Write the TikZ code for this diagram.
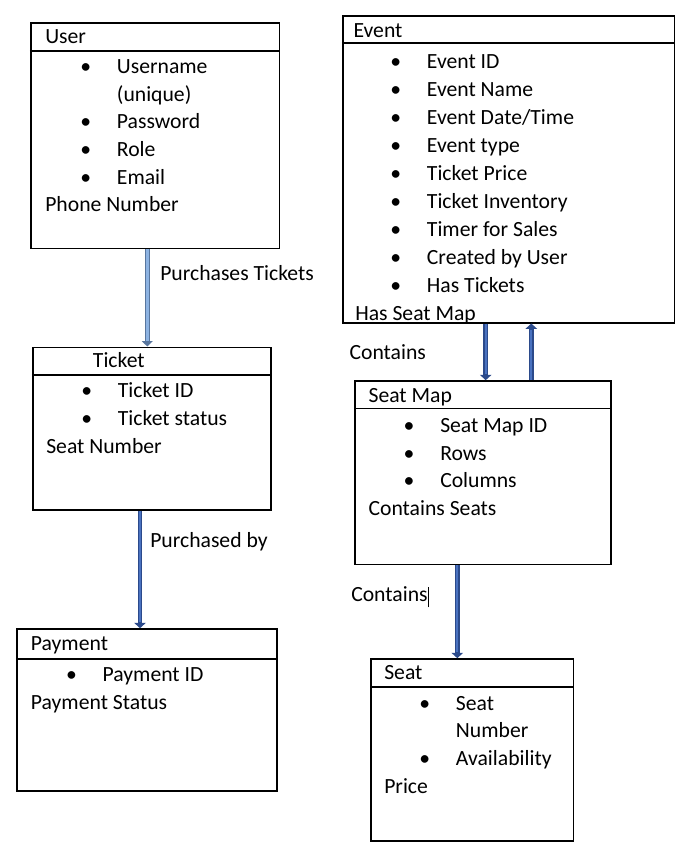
\documentclass[tikz,border=0pt]{standalone}
\usepackage{fontspec}
\setmainfont{Carlito}
\usepackage{xcolor}
\usepackage{tikz}
\usetikzlibrary{fit,arrows.meta}

\definecolor{arrdark}{HTML}{2B4A8B}
\definecolor{arrmid}{HTML}{4A72C0}
\definecolor{litedge}{HTML}{58769E}
\definecolor{litfill}{HTML}{8DB3E2}

\newdimen\pxu \pxu=0.75pt
\newcommand{\bitem}[1]{\makebox[71.7\pxu][l]{\hspace{40.5\pxu}\makebox[0pt]{\textbullet}}#1}
\newcommand{\bcont}[1]{\makebox[71.7\pxu][l]{}#1}

\begin{document}
\begin{tikzpicture}[x=0.75pt,y=-0.75pt,
    box/.style={draw, line width=1.2pt, inner sep=0pt},
    txt/.style={anchor=base west, inner sep=0pt, font=\fontsize{16.25pt}{20.8pt}\selectfont},
    darr/.style={draw=arrdark, line width=3.6pt, -{Triangle[length=4pt,width=8.5pt]},
        postaction={draw=arrmid, line width=1.4pt, -, shorten >=4.5pt}},
    larr/.style={draw=litedge, line width=3.6pt, -{Triangle[length=4pt,width=8pt]},
        postaction={draw=litfill, line width=1.8pt, -, shorten >=4.5pt}}]
    \useasboundingbox (0,0) rectangle (692,866);

    \node [box, fit={(30.7,23.3) (279.3,248.5)}] (user) {};
    \draw [line width=1.2pt] (user.west |- 0,51) -- (user.east |- 0,51);
    \node [txt] (userhd) at (45,44) {User};
    \node [txt] (userbody) at (45,73.3) {\begin{tabular}[t]{@{}l@{}}
        \bitem{Username}\\ \bcont{(unique)}\\ \bitem{Password}\\ \bitem{Role}\\
        \bitem{Email}\\ Phone Number
      \end{tabular}};

    \node [box, fit={(342.7,16) (674.3,322.7)}] (event) {};
    \draw [line width=1.2pt] (event.west |- 0,43.3) -- (event.east |- 0,43.3);
    \node [txt] (eventhd) at (353.3,37.3) {Event};
    \node [txt, font=\fontsize{16.25pt}{21pt}\selectfont] (eventbody) at (355,68.3) {\begin{tabular}[t]{@{}l@{}}
        \bitem{Event ID}\\ \bitem{Event Name}\\ \bitem{Event Date/Time}\\
        \bitem{Event type}\\ \bitem{Ticket Price}\\ \bitem{Ticket Inventory}\\
        \bitem{Timer for Sales}\\ \bitem{Created by User}\\ \bitem{Has Tickets}\\
        Has Seat Map
      \end{tabular}};

    \node [box, fit={(32.7,347.3) (270.7,510)}] (ticket) {};
    \draw [line width=1.2pt] (ticket.west |- 0,375) -- (ticket.east |- 0,375);
    \node [txt] (tickethd) at (92.7,367.7) {Ticket};
    \node [txt] (ticketbody) at (46,397.7) {\begin{tabular}[t]{@{}l@{}}
        \bitem{Ticket ID}\\ \bitem{Ticket status}\\ Seat Number
      \end{tabular}};

    \node [box, fit={(355,381) (610.7,564.3)}] (seatmap) {};
    \draw [line width=1.2pt] (seatmap.west |- 0,408.3) -- (seatmap.east |- 0,408.3);
    \node [txt] (seatmaphd) at (368.3,402.3) {Seat Map};
    \node [txt] (seatmapbody) at (368.3,432.3) {\begin{tabular}[t]{@{}l@{}}
        \bitem{Seat Map ID}\\ \bitem{Rows}\\ \bitem{Columns}\\ Contains Seats
      \end{tabular}};

    \node [box, fit={(16.7,629) (277,790.7)}] (payment) {};
    \draw [line width=1.2pt] (payment.west |- 0,658.7) -- (payment.east |- 0,658.7);
    \node [txt] (paymenthd) at (30.7,650) {Payment};
    \node [txt] (paymentbody) at (30.7,681.7) {\begin{tabular}[t]{@{}l@{}}
        \bitem{Payment ID}\\ Payment Status
      \end{tabular}};

    \node [box, fit={(371,659) (573.3,840.7)}] (seat) {};
    \draw [line width=1.2pt] (seat.west |- 0,686.7) -- (seat.east |- 0,686.7);
    \node [txt] (seathd) at (384,679.3) {Seat};
    \node [txt] (seatbody) at (384,710) {\begin{tabular}[t]{@{}l@{}}
        \bitem{Seat}\\ \bcont{Number}\\ \bitem{Availability}\\ Price
      \end{tabular}};

    \draw [larr] (user.south -| 147.3,0) -- (ticket.north -| 147.3,0);
    \draw [darr] (ticket.south -| 140,0) -- (payment.north -| 140,0);
    \draw [darr] (event.south -| 485.7,0) -- (seatmap.north -| 485.7,0);
    \draw [darr] (seatmap.north -| 531.3,0) -- (event.south -| 531.3,0);
    \draw [darr] (seatmap.south -| 457.3,0) -- (seat.north -| 457.3,0);

    \node [txt] (buys) at (160,280) {Purchases Tickets};
    \node [txt] (paidby) at (150,547.7) {Purchased by};
    \node [txt] (holds) at (349.3,359.3) {Contains};
    \node [txt] (holdsseats) at (351,601.7) {Contains\rule[-4.2pt]{0.6pt}{15.5pt}};
\end{tikzpicture}
\end{document}
